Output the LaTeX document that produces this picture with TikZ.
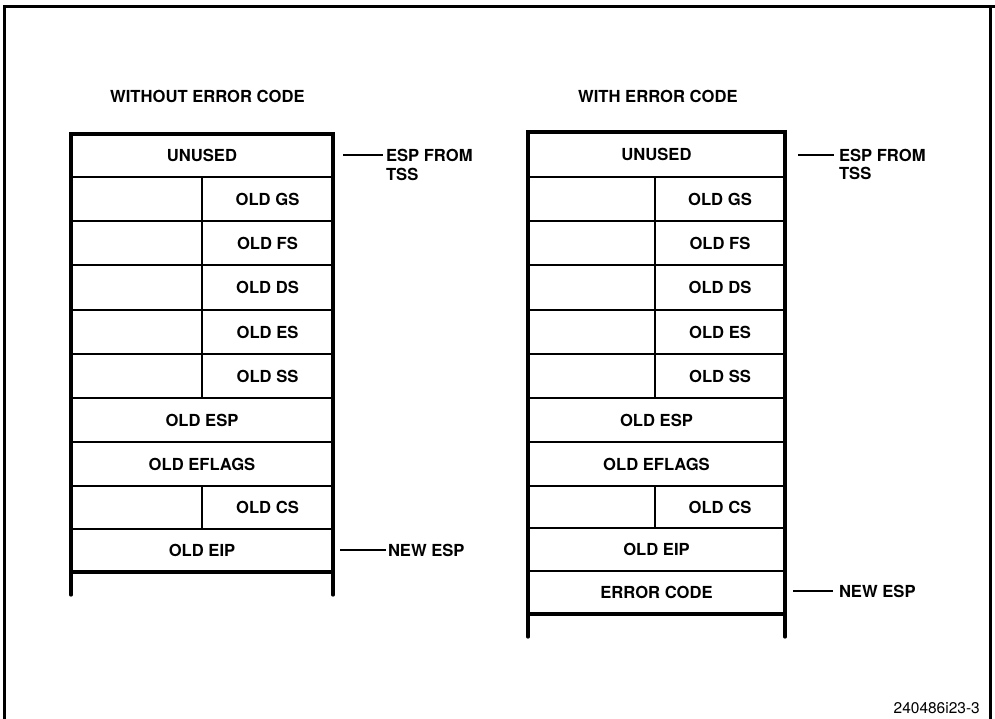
\documentclass[tikz,border=0pt]{standalone}
\usepackage{fontspec}
\setmainfont{TeX Gyre Heros}
\newcommand{\lblfont}{\fontsize{16.6}{19}\selectfont\bfseries}
\begin{document}
\begin{tikzpicture}[x=1pt,y=-1pt,
  cell/.style={draw, line width=2pt, inner sep=0pt, outer sep=0pt, anchor=north west, font=\lblfont},
  heavy/.style={line width=3.3pt, line cap=round},
  lead/.style={line width=2pt},
  lbl/.style={inner sep=0pt, outer sep=0pt, font=\lblfont},
  title/.style={inner sep=0pt, font=\lblfont}
]
\useasboundingbox (0,0) rectangle (995,719);
% frame
\draw[line width=3pt] (4,719) -- (4,7) -- (995,7);
\draw[line width=3pt] (990,7) -- (990,719);

% titles
\node[title, anchor=base west] (tl) at (110,103) {WITHOUT ERROR CODE};
\node[title, anchor=base west] (tr) at (578,103) {WITH ERROR CODE};

% ---------- left table ----------
\node[cell, minimum width=262pt, minimum height=43pt] (lU) at (71,134) {UNUSED};
\node[cell, minimum width=131pt, minimum height=44pt] (lGSa) at (71,177) {};
\node[cell, minimum width=131pt, minimum height=44pt] (lGS) at (202,177) {OLD GS};
\node[cell, minimum width=131pt, minimum height=44pt] (lFSa) at (71,221) {};
\node[cell, minimum width=131pt, minimum height=44pt] (lFS) at (202,221) {OLD FS};
\node[cell, minimum width=131pt, minimum height=45pt] (lDSa) at (71,265) {};
\node[cell, minimum width=131pt, minimum height=45pt] (lDS) at (202,265) {OLD DS};
\node[cell, minimum width=131pt, minimum height=44pt] (lESa) at (71,310) {};
\node[cell, minimum width=131pt, minimum height=44pt] (lES) at (202,310) {OLD ES};
\node[cell, minimum width=131pt, minimum height=44pt] (lSSa) at (71,354) {};
\node[cell, minimum width=131pt, minimum height=44pt] (lSS) at (202,354) {OLD SS};
\node[cell, minimum width=262pt, minimum height=44pt] (lESP) at (71,398) {OLD ESP};
\node[cell, minimum width=262pt, minimum height=44pt] (lEFL) at (71,442) {OLD EFLAGS};
\node[cell, minimum width=131pt, minimum height=43pt] (lCSa) at (71,486) {};
\node[cell, minimum width=131pt, minimum height=43pt] (lCS) at (202,486) {OLD CS};
\node[cell, minimum width=262pt, minimum height=43pt] (lEIP) at (71,529) {OLD EIP};
\coordinate (lfootL) at (71,595);
\coordinate (lfootR) at (333,595);
\draw[heavy] (lfootL) -- (lU.north west) -- (lU.north east) -- (lfootR);
\draw[heavy] (lEIP.south west) -- (lEIP.south east);

% left labels
\node[lbl, anchor=west] (lesp) at (386,155.5) {ESP FROM};
\node[lbl, anchor=base west] (ltss) at (386,181) {TSS};
\coordinate (lespS) at (343,155.5);
\draw[lead] (lespS) -- ([xshift=-3pt]lesp.west);
\node[lbl, anchor=west] (lnew) at (388,550) {NEW ESP};
\coordinate (lnewS) at (340,550);
\draw[lead] (lnewS) -- ([xshift=-2pt]lnew.west);

% ---------- right table ----------
\node[cell, minimum width=257pt, minimum height=45pt] (rU) at (528,132) {UNUSED};
\node[cell, minimum width=127pt, minimum height=44pt] (rGSa) at (528,177) {};
\node[cell, minimum width=130pt, minimum height=44pt] (rGS) at (655,177) {OLD GS};
\node[cell, minimum width=127pt, minimum height=44pt] (rFSa) at (528,221) {};
\node[cell, minimum width=130pt, minimum height=44pt] (rFS) at (655,221) {OLD FS};
\node[cell, minimum width=127pt, minimum height=45pt] (rDSa) at (528,265) {};
\node[cell, minimum width=130pt, minimum height=45pt] (rDS) at (655,265) {OLD DS};
\node[cell, minimum width=127pt, minimum height=44pt] (rESa) at (528,310) {};
\node[cell, minimum width=130pt, minimum height=44pt] (rES) at (655,310) {OLD ES};
\node[cell, minimum width=127pt, minimum height=44pt] (rSSa) at (528,354) {};
\node[cell, minimum width=130pt, minimum height=44pt] (rSS) at (655,354) {OLD SS};
\node[cell, minimum width=257pt, minimum height=44pt] (rESP) at (528,398) {OLD ESP};
\node[cell, minimum width=257pt, minimum height=44pt] (rEFL) at (528,442) {OLD EFLAGS};
\node[cell, minimum width=127pt, minimum height=42pt] (rCSa) at (528,486) {};
\node[cell, minimum width=130pt, minimum height=42pt] (rCS) at (655,486) {OLD CS};
\node[cell, minimum width=257pt, minimum height=43pt] (rEIP) at (528,528) {OLD EIP};
\node[cell, minimum width=257pt, minimum height=43pt] (rERR) at (528,571) {ERROR CODE};
\coordinate (rfootL) at (528,637);
\coordinate (rfootR) at (785,637);
\draw[heavy] (rfootL) -- (rU.north west) -- (rU.north east) -- (rfootR);
\draw[heavy] (rERR.south west) -- (rERR.south east);

% right labels
\node[lbl, anchor=west] (resp) at (839,155.5) {ESP FROM};
\node[lbl, anchor=base west] (rtss) at (839,180) {TSS};
\coordinate (respS) at (798,155.5);
\draw[lead] (respS) -- ([xshift=-5pt]resp.west);
\node[lbl, anchor=west] (rnew) at (839,591) {NEW ESP};
\coordinate (rnewS) at (793,591);
\draw[lead] (rnewS) -- ([xshift=-6pt]rnew.west);

% figure number
\node[inner sep=0pt, anchor=base east, font=\fontsize{15.5}{18}\selectfont] (fig) at (980,713) {240486i23-3};
\end{tikzpicture}
\end{document}
